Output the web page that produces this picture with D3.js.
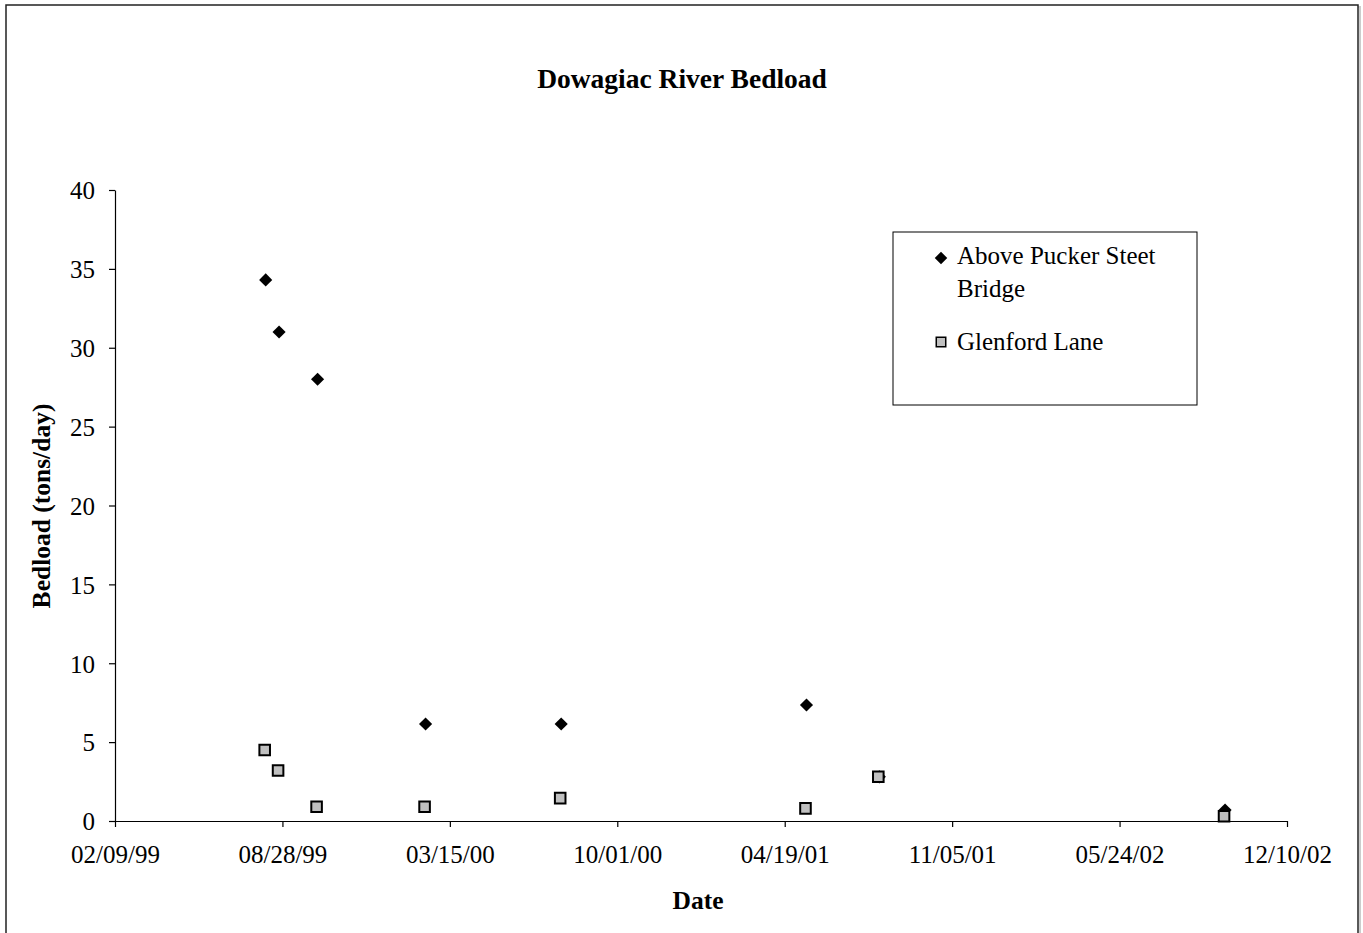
<!DOCTYPE html>
<html>
<head>
<meta charset="utf-8">
<script src="https://cdn.jsdelivr.net/npm/d3@7"></script>
<style>
  body { margin: 0; background: #fff; }
  text { font-family: "Liberation Serif", "Times New Roman", serif; fill: #000; }
</style>
</head>
<body>
<div id="chart"></div>
<script>
// sample dates (same day for both sites)
var dates = ["1999-08-08", "1999-08-24", "1999-10-09", "2000-02-15", "2000-07-26", "2001-05-15", "2001-08-10", "2002-09-27"];
var abovePucker = [34.3, 31.0, 28.0, 6.15, 6.15, 7.35, 2.8, 0.7];
var glenford = [4.5, 3.2, 0.9, 0.9, 1.45, 0.8, 2.8, 0.3];
var xTickLabels = ["02/09/99", "08/28/99", "03/15/00", "10/01/00", "04/19/01", "11/05/01", "05/24/02", "12/10/02"];
var yTicks = [0, 5, 10, 15, 20, 25, 30, 35, 40];
var seriesNames = ["Above Pucker Steet", "Glenford Lane"];

var W = 1363, H = 933;
var margin = {left: 115, right: 76, top: 190, bottom: 112};

var parse = d3.timeParse("%Y-%m-%d");
var tickParse = d3.timeParse("%m/%d/%y");
var tickDates = xTickLabels.map(function(s){ return tickParse(s); });

var svg = d3.select("#chart").append("svg")
  .attr("width", W).attr("height", H);

// chart area border + faint shadow
svg.append("rect").attr("x", 8).attr("y", 7).attr("width", 1352).attr("height", 960)
  .style("fill", "none").style("stroke", "#ccc").style("stroke-width", 2);
svg.append("rect").attr("x", 6).attr("y", 5).attr("width", 1352).attr("height", 960)
  .style("fill", "#fff").style("stroke", "#222").style("stroke-width", 1.5);

var x = d3.scaleTime()
  .domain([tickDates[0], tickDates[tickDates.length - 1]])
  .range([margin.left, W - margin.right]);
var y = d3.scaleLinear().domain([0, 40]).range([H - margin.bottom, margin.top]);

var fmt = d3.timeFormat("%m/%d/%y");

var xAxis = svg.append("g")
  .attr("transform", "translate(0," + (H - margin.bottom) + ")")
  .call(d3.axisBottom(x).tickValues(tickDates).tickFormat(fmt).tickSize(6).tickSizeOuter(0));
xAxis.selectAll("text")
  .style("font-size", "25px")
  .attr("y", 42)
  .attr("dy", 0);

var yAxis = svg.append("g")
  .attr("transform", "translate(" + margin.left + ",0)")
  .call(d3.axisLeft(y).tickValues(yTicks).tickSize(6).tickSizeOuter(0));
yAxis.selectAll("text")
  .style("font-size", "25px")
  .attr("x", -20)
  .attr("dy", "0.35em");

svg.selectAll(".domain, .tick line").style("stroke", "#000").style("stroke-width", 1.2);

// titles
function label(txt, px, py, size, rot) {
  return svg.append("text")
    .attr("transform", "translate(" + px + "," + py + ")" + (rot ? " rotate(" + rot + ")" : ""))
    .attr("text-anchor", "middle")
    .style("font-size", size + "px")
    .style("font-weight", "bold")
    .text(txt);
}
label("Dowagiac River Bedload", 682, 88, 27.5);
label("Date", 698, 909, 25.5);
label("Bedload (tons/day)", 50, 506, 25.5, -90);

var diamond = d3.symbol().type(d3.symbolDiamond2).size(110);
var square = d3.symbol().type(d3.symbolSquare).size(112);

var ptsA = dates.map(function(d, i){ return {date: parse(d), value: abovePucker[i]}; });
var ptsG = dates.map(function(d, i){ return {date: parse(d), value: glenford[i]}; });

svg.append("g").selectAll("path")
  .data(ptsA).enter().append("path")
  .attr("d", diamond)
  .attr("transform", function(d){ return "translate(" + x(d.date) + "," + y(d.value) + ")"; })
  .style("fill", "#000");

svg.append("g").selectAll("path")
  .data(ptsG).enter().append("path")
  .attr("d", square)
  .attr("transform", function(d){ return "translate(" + (x(d.date) - 1) + "," + y(d.value) + ")"; })
  .style("fill", "#c0c0c0")
  .style("stroke", "#000")
  .style("stroke-width", 2);

// legend
var lg = svg.append("g").attr("transform", "translate(893,232)");
lg.append("rect").attr("width", 304).attr("height", 173)
  .style("fill", "#fff").style("stroke", "#000").style("stroke-width", 1);
lg.append("path").attr("d", d3.symbol().type(d3.symbolDiamond2).size(100))
  .attr("transform", "translate(48,26)").style("fill", "#000");
lg.append("text").attr("x", 64).attr("y", 32)
  .style("font-size", "25px").text(seriesNames[0]);
lg.append("text").attr("x", 64).attr("y", 65)
  .style("font-size", "25px").text("Bridge");
lg.append("path").attr("d", d3.symbol().type(d3.symbolSquare).size(90))
  .attr("transform", "translate(48,110)")
  .style("fill", "#c0c0c0").style("stroke", "#000").style("stroke-width", 1.5);
lg.append("text").attr("x", 64).attr("y", 118)
  .style("font-size", "25px").text(seriesNames[1]);
</script>
</body>
</html>
